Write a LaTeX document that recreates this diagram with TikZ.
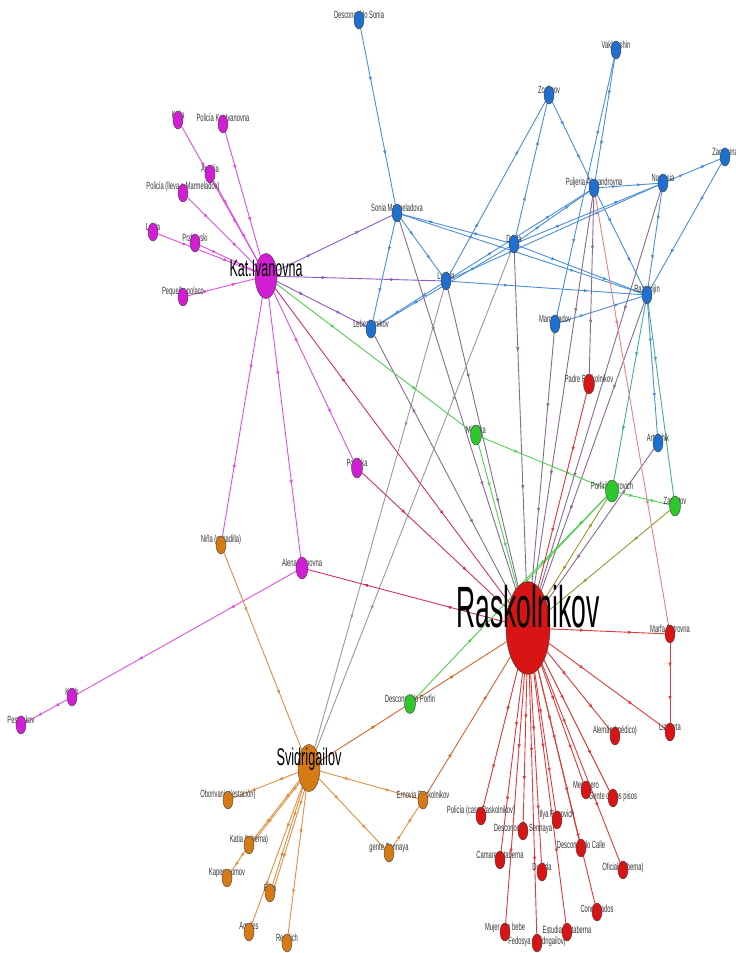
\documentclass[tikz,border=0pt]{standalone}
\usepackage{fontspec}
\setmainfont{Liberation Sans}
\usetikzlibrary{arrows.meta,decorations.markings,shapes.geometric}
\pgfdeclarelayer{edges}
\pgfdeclarelayer{labels}
\pgfdeclarelayer{top}
\pgfsetlayers{edges,labels,main,top}
\definecolor{cblue}{HTML}{1F6FCF}
\definecolor{cmag}{HTML}{D21ED2}
\definecolor{corange}{HTML}{D67B14}
\definecolor{cgreen}{HTML}{2CC82C}
\definecolor{cred}{HTML}{D81414}
\definecolor{eblue}{HTML}{4A8FD8}
\definecolor{emag}{HTML}{E050E0}
\definecolor{epurple}{HTML}{8A5CC8}
\definecolor{emauve}{HTML}{8A6A90}
\definecolor{egrey}{HTML}{9A9A9A}
\definecolor{epink}{HTML}{D0306E}
\definecolor{egreen}{HTML}{50D050}
\definecolor{eteal}{HTML}{40B0A0}
\definecolor{eolive}{HTML}{9A9A30}
\definecolor{eorange}{HTML}{E09040}
\definecolor{eorred}{HTML}{D86428}
\definecolor{ered}{HTML}{E03A3A}
\definecolor{elred}{HTML}{E88080}
\definecolor{labgray}{HTML}{333333}
\newcommand\mylbl[3][5]{\node[lab] at ([yshift=#1pt]#2.center) {\scalebox{1}[1.8]{#3}};}
\tikzset{
  nd/.style={ellipse, draw=black!75, line width=0.4pt, minimum width=10pt, minimum height=18pt, inner sep=0pt},
  bl/.style={nd, fill=cblue},
  mg/.style={nd, fill=cmag},
  og/.style={nd, fill=corange},
  gn/.style={nd, fill=cgreen},
  rd/.style={nd, fill=cred},
  lab/.style={text=labgray, font=\fontsize{5.8}{6}\selectfont, inner sep=0pt},
  biglab/.style={text=black, inner sep=0pt},
  mk/.style={postaction={decorate, decoration={markings,
     mark=at position 0.3 with {\arrow{Latex[length=4.5pt,width=3.5pt]}},
     mark=at position 0.72 with {\arrow{Latex[length=4.5pt,width=3.5pt]}}}}},
  edg/.style={color=#1, draw=#1, line width=0.9pt, mk}
}
\begin{document}
\begin{tikzpicture}[x=1pt,y=-1pt]
\useasboundingbox (0,0) rectangle (736,953);
% ---------- nodes ----------
% blue
\node[bl] (dsonia) at (359,20) {};
\node[bl] (vakh) at (616,50) {};
\node[bl] (zosi) at (549,95) {};
\node[bl] (zarn) at (725,157) {};
\node[bl] (pulch) at (594,188) {};
\node[bl] (nast) at (663,183) {};
\node[bl] (sonia) at (397,213) {};
\node[bl] (dunia) at (514,244) {};
\node[bl] (luzhin) at (446,281) {};
\node[bl] (razu) at (647,295) {};
\node[bl] (lebez) at (371,329) {};
\node[bl] (marm) at (555,324) {};
\node[bl] (artel) at (658,443) {};
% magenta
\node[mg, minimum width=22pt, minimum height=45pt] (kat) at (266,276) {};
\node[mg] (kolia) at (178,120) {};
\node[mg] (polkat) at (223,124) {};
\node[mg] (amalia) at (210,174) {};
\node[mg] (pollleva) at (183,193) {};
\node[mg] (lenia) at (153,232) {};
\node[mg] (prz) at (195,243) {};
\node[mg] (pola) at (183,297) {};
\node[mg, minimum width=11pt, minimum height=20pt] (polenka) at (357,468) {};
\node[mg, minimum width=12pt, minimum height=22pt] (alena) at (302,568) {};
\node[mg] (koch) at (72,697) {};
\node[mg] (pest) at (21,725) {};
% orange
\node[og, minimum width=22pt, minimum height=47pt] (svid) at (309,768) {};
\node[og] (nila) at (221,545) {};
\node[og] (obon) at (228,800) {};
\node[og] (katia) at (249,845) {};
\node[og] (kaper) at (227,878) {};
\node[og] (filka) at (270,893) {};
\node[og] (aquil) at (249,932) {};
\node[og] (ress) at (287,943) {};
\node[og] (gente) at (389,853) {};
\node[og] (ernovia) at (423,800) {};
% green
\node[gn, minimum width=11pt, minimum height=19pt] (dporf) at (410,704) {};
\node[gn, minimum width=11pt, minimum height=20pt] (mikol) at (476,435) {};
\node[gn, minimum width=13pt, minimum height=22pt] (porf) at (612,491) {};
\node[gn, minimum width=11pt, minimum height=20pt] (zamet) at (675,506) {};
% red
\node[rd, minimum width=44pt, minimum height=93pt] (rask) at (528,628) {};
\node[rd, minimum width=11pt, minimum height=20pt] (padre) at (589,384) {};
\node[rd] (marfa) at (670,634) {};
\node[rd] (liza) at (670,732) {};
\node[rd] (aleman) at (615,736) {};
\node[rd] (meson) at (586,790) {};
\node[rd] (gpisos) at (613,798) {};
\node[rd] (polcaso) at (481,816) {};
\node[rd] (ilya) at (557,820) {};
\node[rd] (dsenn) at (523,831) {};
\node[rd] (dcalle) at (581,848) {};
\node[rd] (camar) at (500,860) {};
\node[rd] (ducl) at (542,872) {};
\node[rd] (oficial) at (623,870) {};
\node[rd] (conden) at (597,912) {};
\node[rd] (mujer) at (505,932) {};
\node[rd] (estud) at (567,932) {};
\node[rd] (fedos) at (537,943) {};
% ---------- big labels on top ----------
\begin{pgfonlayer}{top}
\node[biglab] (katlab) at ([yshift=8pt]kat.center) {\scalebox{1}[1.9]{\fontsize{12.5}{14}\selectfont Kat.Ivanovna}};
\node[biglab] (svidlab) at ([yshift=9pt]svid.center) {\scalebox{1}[1.9]{\fontsize{12.7}{14}\selectfont Svidrigailov}};
\node[biglab] (rasklab) at ([yshift=21pt]rask.center) {\scalebox{1}[2.2]{\fontsize{26.5}{30}\selectfont Raskolnikov}};
\end{pgfonlayer}
% ---------- small labels ----------
\begin{pgfonlayer}{labels}
\mylbl{dsonia}{Desconocido Sonia}
\mylbl{vakh}{Vakhrushin}
\mylbl{zosi}{Zosimov}
\mylbl{zarn}{Zarnitsina}
\mylbl{pulch}{Puljeria Alexandrovna}
\mylbl{nast}{Nastasia}
\mylbl{sonia}{Sonia Marmeladova}
\mylbl{dunia}{Dunia}
\mylbl{luzhin}{Luzhin}
\mylbl{razu}{Razumijin}
\mylbl{lebez}{Lebeziatnikov}
\mylbl{marm}{Marmeladov}
\mylbl{artel}{Artelshik}
\mylbl{kolia}{Kolia}
\mylbl[6]{polkat}{Policía Kat.Ivanovna}
\mylbl{amalia}{Amalia}
\mylbl[6]{pollleva}{Policía (lleva a Marmeladov)}
\mylbl{lenia}{Lenia}
\mylbl{prz}{Przhevski}
\mylbl{pola}{Pequeño polaco}
\mylbl{polenka}{Polenka}
\mylbl{alena}{Alena Ivanovna}
\mylbl{koch}{Koch}
\mylbl{pest}{Pestriakov}
\mylbl{nila}{Niña (pesadilla)}
\mylbl{obon}{Obonvanie (estación)}
\mylbl{katia}{Katia (taberna)}
\mylbl{kaper}{Kapernaumov}
\mylbl{filka}{Filka}
\mylbl{aquil}{Aquiles}
\mylbl{ress}{Resslich}
\mylbl{gente}{gente Sennaya}
\mylbl{ernovia}{Ernovia Raskolnikov}
\mylbl{dporf}{Desconocido Porfiri}
\mylbl{mikol}{Mikolka}
\mylbl{porf}{Porfirii Petrovich}
\mylbl{zamet}{Zametov}
\mylbl{padre}{Padre Raskolnikov}
\mylbl{marfa}{Marfa Petrovna}
\mylbl{liza}{Lizaveta}
\mylbl{aleman}{Alemán (médico)}
\mylbl{meson}{Mesonero}
\mylbl[1]{gpisos}{Gente de los pisos}
\mylbl{polcaso}{Policía (caso Raskolnikov)}
\mylbl{ilya}{Ilya Petrovich}
\mylbl[2]{dsenn}{Desconocido Sennaya}
\mylbl[3]{dcalle}{Desconocido Calle}
\mylbl{camar}{Camarero taberna}
\mylbl{ducl}{Duclida}
\mylbl[2]{oficial}{Oficial (taberna)}
\mylbl[3]{conden}{Condenados}
\mylbl[4]{mujer}{Mujer con bebe}
\mylbl[1]{fedos}{Fedosya (Svidrigailov)}
\mylbl[2]{estud}{Estudiante taberna}
\end{pgfonlayer}
% ---------- edges ----------
\begin{pgfonlayer}{edges}
\fill[white] (0,0) rectangle (736,953);
% blue cluster
\draw[edg=eblue] (dsonia) -- (sonia);
\draw[edg=eblue] (sonia) -- (dunia);
\draw[edg=eblue] (sonia) -- (razu);
\draw[edg=eblue] (sonia) -- (luzhin);
\draw[edg=eblue] (sonia) -- (lebez);
\draw[edg=eblue] (luzhin) -- (zosi);
\draw[edg=eblue] (luzhin) -- (razu);
\draw[edg=eblue] (luzhin) -- (pulch);
\draw[edg=eblue] (luzhin) -- (nast);
\draw[edg=eblue] (luzhin) -- (lebez);
\draw[edg=eblue] (dunia) -- (zosi);
\draw[edg=eblue] (dunia) -- (pulch);
\draw[edg=eblue] (dunia) -- (nast);
\draw[edg=eblue] (dunia) -- (razu);
\draw[edg=eblue] (dunia) -- (lebez);
\draw[edg=eblue] (zosi) -- (pulch);
\draw[edg=eblue] (vakh) -- (pulch);
\draw[edg=eblue] (vakh) -- (marm);
\draw[edg=eblue] (pulch) -- (nast);
\draw[edg=eblue] (pulch) -- (razu);
\draw[edg=eblue] (nast) -- (zarn);
\draw[edg=eblue] (nast) -- (razu);
\draw[edg=eblue] (zarn) -- (razu);
\draw[edg=eblue] (marm) -- (razu);
\draw[edg=eblue] (razu) -- (artel);
% Kat to blue
\draw[edg=epurple] (kat) -- (sonia);
\draw[edg=epurple] (kat) -- (luzhin);
\draw[edg=epurple] (kat) -- (lebez);
% blue to Raskolnikov
\draw[edg=emauve] (sonia) -- (rask);
\draw[edg=emauve] (luzhin) -- (rask);
\draw[edg=emauve] (lebez) -- (rask);
\draw[edg=emauve] (dunia) -- (rask);
\draw[edg=emauve] (marm) -- (rask);
\draw[edg=emauve] (pulch) -- (rask);
\draw[edg=emauve] (pulch) -- (padre);
\draw[edg=emauve] (nast) -- (rask);
\draw[edg=emauve] (razu) -- (rask);
\draw[edg=emauve] (artel) -- (rask);
% blue to Svidrigailov
\draw[edg=egrey] (luzhin) -- (svid);
\draw[edg=egrey] (dunia) -- (svid);
% magenta cluster
\draw[edg=emag] (kolia) -- (kat);
\draw[edg=emag] (polkat) -- (kat);
\draw[edg=emag] (amalia) -- (kat);
\draw[edg=emag] (pollleva) -- (kat);
\draw[edg=emag] (lenia) -- (kat);
\draw[edg=emag] (prz) -- (kat);
\draw[edg=emag] (pola) -- (kat);
\draw[edg=emag] (kat) -- (polenka);
\draw[edg=emag] (kat) -- (alena);
\draw[edg=emag] (kat) -- (nila);
\draw[edg=emag] (alena) -- (koch);
\draw[edg=emag] (koch) -- (pest);
\draw[edg=epink] (kat) -- (rask);
\draw[edg=epink] (polenka) -- (rask);
\draw[edg=epink] (rask) -- (alena);
% green cluster
\draw[edg=egreen] (kat) -- (mikol);
\draw[edg=egreen] (mikol) -- (porf);
\draw[edg=egreen] (porf) -- (zamet);
\draw[edg=egreen] (mikol) -- (rask);
\draw[edg=egreen] (porf) -- (rask.110);
\draw[edg=egreen] (dporf) -- (porf);
\draw[edg=eteal] (razu) -- (porf);
\draw[edg=eteal] (razu) -- (zamet);
\draw[edg=eolive] (zamet) -- (rask.40);
\draw[edg=eolive] (porf) -- (rask.60);
% orange cluster
\draw[edg=eorange] (nila) -- (svid);
\draw[edg=eorange] (svid) -- (obon);
\draw[edg=eorange] (svid) -- (katia);
\draw[edg=eorange] ([xshift=2pt]svid.center) -- ([xshift=2pt]katia.center);
\draw[edg=eorange] (katia) -- (kaper);
\draw[edg=eorange] (svid) -- (filka);
\draw[edg=eorange] ([xshift=2.5pt]svid.center) -- ([xshift=2.5pt]filka.center);
\draw[edg=eorange] (svid) -- (aquil);
\draw[edg=eorange] (svid) -- (ress);
\draw[edg=eorange] (svid) -- (gente);
\draw[edg=eorange] (svid) -- (ernovia);
\draw[edg=eorange] (gente) -- (ernovia);
\draw[edg=eorred] (svid) -- (rask);
\draw[edg=eorred] (ernovia) -- (rask);
% red cluster
\draw[edg=ered] (padre) -- (rask);
\draw[edg=elred] (pulch) -- (marfa);
\draw[edg=ered] (rask) -- (marfa);
\draw[edg=ered] (marfa) -- (liza);
\draw[edg=ered] (rask) -- (liza);
\draw[edg=ered] (rask) -- (aleman);
\draw[edg=ered] (rask) -- (meson);
\draw[edg=ered] (rask) -- (gpisos);
\draw[edg=ered] (rask) -- (polcaso);
\draw[edg=ered] (rask) -- (ilya);
\draw[edg=ered] (rask) -- (dsenn);
\draw[edg=ered] (rask) -- (dcalle);
\draw[edg=ered] (rask) -- (camar);
\draw[edg=ered] (rask) -- (ducl);
\draw[edg=ered] (rask) -- (oficial);
\draw[edg=ered] (rask) -- (conden);
\draw[edg=ered] (rask) -- (mujer);
\draw[edg=ered] (rask) -- (estud);
\draw[edg=ered] (rask) -- (fedos);
\end{pgfonlayer}
\end{tikzpicture}
\end{document}
